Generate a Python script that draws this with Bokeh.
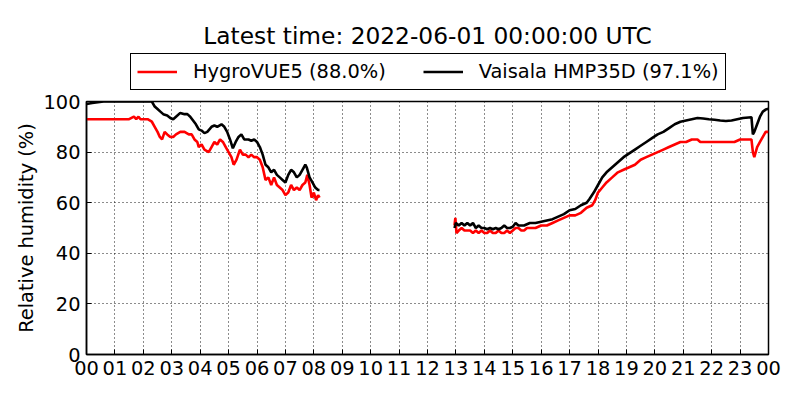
import math
from bokeh.plotting import figure
from bokeh.layouts import column
from bokeh.models import (Legend, LegendItem, Label, FixedTicker, Range1d)
from bokeh.embed import file_html
from bokeh.resources import INLINE

NAN = float("nan")

title_text = "Latest time: 2022-06-01 00:00:00 UTC"
red_name = "HygroVUE5 (88.0%)"
black_name = "Vaisala HMP35D (97.1%)"
y_label = "Relative humidity (%)"
x_ticks = list(range(0, 25))
x_tick_labels = ["%02d" % (h % 24) for h in x_ticks]
y_ticks = [0, 20, 40, 60, 80, 100]

# HygroVUE5 (red): hours since 00 UTC, relative humidity (%)
red_hours = [
    0.0, 0.5, 1.0, 1.5, 1.67, 1.75, 1.83, 1.9, 2.0, 2.15, 2.3, 2.4, 2.5, 2.58, 2.66,
    2.75, 2.84, 2.95, 3.05, 3.15, 3.3, 3.45, 3.6, 3.7, 3.8, 3.9, 3.95, 4.05, 4.15,
    4.3, 4.4, 4.5, 4.6, 4.7, 4.8, 4.9, 5.0, 5.1, 5.18, 5.28, 5.4, 5.5, 5.6, 5.7,
    5.8, 5.9, 6.0, 6.1, 6.2, 6.3, 6.4, 6.5, 6.6, 6.7, 6.8, 6.9, 7.0, 7.1, 7.2,
    7.3, 7.4, 7.5, 7.6, 7.7, 7.77, 7.85, 7.92, 8.0, 8.08, 8.15, 8.2,
    8.3,
    12.95, 12.98, 13.02, 13.1, 13.2, 13.3, 13.4, 13.5, 13.6, 13.7, 13.8, 13.9,
    14.0, 14.1, 14.2, 14.3, 14.4, 14.5, 14.6, 14.7, 14.8, 14.9, 15.0, 15.1, 15.2,
    15.3, 15.4, 15.5, 15.6, 15.8, 16.0, 16.2, 16.4, 16.6, 16.8, 17.0, 17.2, 17.4,
    17.6, 17.8, 17.9, 18.0, 18.15, 18.3, 18.5, 18.7, 18.9, 19.1, 19.3, 19.5, 19.7,
    19.9, 20.1, 20.3, 20.5, 20.7, 20.9, 21.1, 21.3, 21.5, 21.6, 21.8, 22.0, 22.2,
    22.5, 22.8, 23.0, 23.3, 23.4, 23.45, 23.5, 23.6, 23.7, 23.8, 23.9, 24.0,
]
red_rh = [
    93, 93, 93, 93, 94, 93, 94, 93, 93, 93, 92, 90, 88, 86, 85,
    88, 87, 86, 86, 87, 88, 88, 87, 87, 85, 84, 82, 83, 81,
    80, 82, 84, 83, 85, 84, 82, 80, 78, 75, 77, 81, 79, 79, 78,
    79, 78, 78, 77, 74, 69, 70, 67, 70, 67, 66, 65, 63, 64, 67,
    65, 66, 65, 67, 68, 71, 67, 62, 64, 61, 63, 62,
    NAN,
    51, 54, 48, 49, 50, 49, 49, 49, 48, 49, 48, 49,
    48, 48, 49, 48, 48, 49, 48, 48, 49, 48, 49, 50, 50,
    49, 49, 50, 50, 50, 51, 51, 52, 53, 54, 55, 55, 56,
    58, 59, 61, 64, 66, 68, 70, 72, 73, 74, 75, 77, 78,
    79, 80, 81, 82, 83, 84, 84, 85, 85, 84, 84, 84, 84,
    84, 84, 85, 85, 85, 80, 78, 82, 84, 86, 88, 88,
]

# Vaisala HMP35D (black)
black_hours = [
    0.0, 0.2, 0.4, 0.6, 1.0, 1.5, 2.0, 2.3, 2.4, 2.5, 2.6, 2.7, 2.84, 2.95, 3.05,
    3.15, 3.3, 3.45, 3.55, 3.65, 3.75, 3.85, 3.95, 4.05, 4.15, 4.25, 4.4, 4.5,
    4.6, 4.75, 4.85, 4.95, 5.05, 5.15, 5.25, 5.35, 5.45, 5.55, 5.7, 5.8, 5.9,
    6.0, 6.1, 6.2, 6.3, 6.4, 6.5, 6.6, 6.7, 6.8, 6.9, 7.0, 7.1, 7.2, 7.3, 7.4,
    7.5, 7.6, 7.7, 7.75, 7.85, 7.95, 8.05, 8.15, 8.2,
    8.3,
    12.95, 13.0, 13.1, 13.2, 13.3, 13.4, 13.5, 13.6, 13.7, 13.8, 13.9, 14.0,
    14.1, 14.2, 14.3, 14.4, 14.5, 14.6, 14.7, 14.8, 14.9, 15.0, 15.1, 15.2, 15.3,
    15.4, 15.5, 15.6, 15.8, 16.0, 16.2, 16.4, 16.6, 16.8, 17.0, 17.2, 17.4, 17.6,
    17.7, 17.85, 18.0, 18.15, 18.3, 18.5, 18.7, 18.9, 19.1, 19.3, 19.5, 19.7,
    19.9, 20.1, 20.3, 20.5, 20.7, 20.9, 21.1, 21.3, 21.5, 21.7, 21.9, 22.1, 22.3,
    22.5, 22.7, 22.9, 23.1, 23.3, 23.4, 23.45, 23.5, 23.6, 23.7, 23.8, 23.9, 24.0,
]
black_rh = [
    99, 99.4, 99.7, 100, 100, 100, 100, 100, 98, 97, 96, 95, 94.5, 93.5, 93,
    94, 95.5, 95, 95, 94, 92.5, 91, 89, 88.5, 87.5, 88, 90, 90.5,
    90, 91, 90, 88, 85, 81.5, 84, 86, 87, 85, 85, 84.5, 85,
    84, 82, 79, 75, 74, 72, 73, 71, 70, 69, 68, 71, 73, 72, 70,
    71, 73, 75, 74, 70, 68, 66, 65, 65,
    NAN,
    50, 52, 51, 52, 51, 52, 51, 52, 50, 51, 50, 50,
    49.5, 50, 49.5, 50, 49.5, 50, 51, 50, 50, 50.5, 52, 51, 51,
    51, 51.5, 52, 52, 52.5, 53, 53.5, 54.5, 55.5, 57, 57.5, 59, 60,
    61.5, 64, 67, 70, 72, 74, 76, 78, 79.5, 81, 82.5, 84,
    85.5, 87, 88, 89.5, 91, 92, 92.5, 93, 93.5, 93.3, 93, 92.8, 92.5,
    92.3, 92.5, 93, 93.5, 93.7, 93.8, 87, 88, 91, 94, 96, 96.8, 97.1,
]

FONT = "DejaVu Sans"
FS = "19.4px"
RED = "#ff0000"
LW = 2.6
W = 792
HEAD_H = 90

# ---- header: title + legend ----
head = figure(width=W, height=HEAD_H, output_backend="svg", toolbar_location=None,
              x_range=Range1d(0, 10), y_range=Range1d(0, 10),
              min_border_left=0, min_border_right=0, min_border_top=0,
              min_border_bottom=0)
head.frame_align = False
head.axis.visible = False
head.grid.visible = False
head.outline_line_color = None
head.background_fill_color = "white"
head.border_fill_color = "white"

# legend proxies (drawn outside the header's visible range)
lr = head.line([-20, -10], [-20, -20], line_color=RED, line_width=LW)
lb = head.line([-20, -10], [-20, -20], line_color="black", line_width=LW)

title = Label(x=427, y=HEAD_H - 35, x_units="screen", y_units="screen",
              text=title_text, text_align="center", text_baseline="middle",
              text_font=FONT, text_font_size="23.3px", text_color="black")
head.add_layout(title)

legend = Legend(items=[LegendItem(label=red_name, renderers=[lr]),
                       LegendItem(label=black_name, renderers=[lb])],
                orientation="horizontal", location=(130, 0))
legend.label_text_font = FONT
legend.label_text_font_size = FS
legend.label_text_color = "black"
legend.glyph_width = 40
legend.glyph_height = 21
legend.label_height = 21
legend.label_standoff = 16
legend.spacing = 37
legend.padding = 6
legend.margin = 0
legend.border_line_color = "black"
legend.border_line_width = 1
legend.border_line_alpha = 1
legend.background_fill_alpha = 1
head.add_layout(legend, "center")

# ---- main plot ----
p = figure(width=W, height=392 - HEAD_H, output_backend="svg", toolbar_location=None,
           x_range=Range1d(0, 24), y_range=Range1d(0, 100),
           min_border_left=86, min_border_right=24, min_border_top=11,
           min_border_bottom=38)
p.frame_align = False
p.background_fill_color = "white"
p.border_fill_color = "white"
p.outline_line_color = "black"
p.outline_line_width = 1.5

p.line(red_hours, red_rh, line_color=RED, line_width=LW)
p.line(black_hours, black_rh, line_color="black", line_width=LW)

for ax in (p.xaxis[0], p.yaxis[0]):
    ax.major_label_text_font = FONT
    ax.major_label_text_font_size = FS
    ax.major_label_text_color = "black"
    ax.axis_line_color = "black"
    ax.axis_line_width = 1.5
    ax.major_tick_in = 5
    ax.major_tick_out = 0
    ax.minor_tick_in = 0
    ax.minor_tick_out = 0
    ax.major_tick_line_color = "black"

p.xaxis.ticker = FixedTicker(ticks=x_ticks)
p.xaxis.major_label_overrides = {t: l for t, l in zip(x_ticks, x_tick_labels)}
p.xaxis.major_label_standoff = 6
p.yaxis.ticker = FixedTicker(ticks=y_ticks)
p.yaxis.major_label_standoff = 6
p.yaxis.axis_label = y_label
p.yaxis.axis_label_text_font = FONT
p.yaxis.axis_label_text_font_size = FS
p.yaxis.axis_label_text_font_style = "normal"
p.yaxis.axis_label_text_color = "black"
p.yaxis.axis_label_standoff = 2

p.xgrid.ticker = FixedTicker(ticks=x_ticks)
p.ygrid.ticker = FixedTicker(ticks=y_ticks)
for g in (p.xgrid[0], p.ygrid[0]):
    g.grid_line_color = "black"
    g.grid_line_dash = "1 3"
    g.grid_line_width = 1
    g.grid_line_alpha = 0.9

layout = column(head, p, spacing=0)
open("out.html", "w").write(file_html(layout, INLINE))
